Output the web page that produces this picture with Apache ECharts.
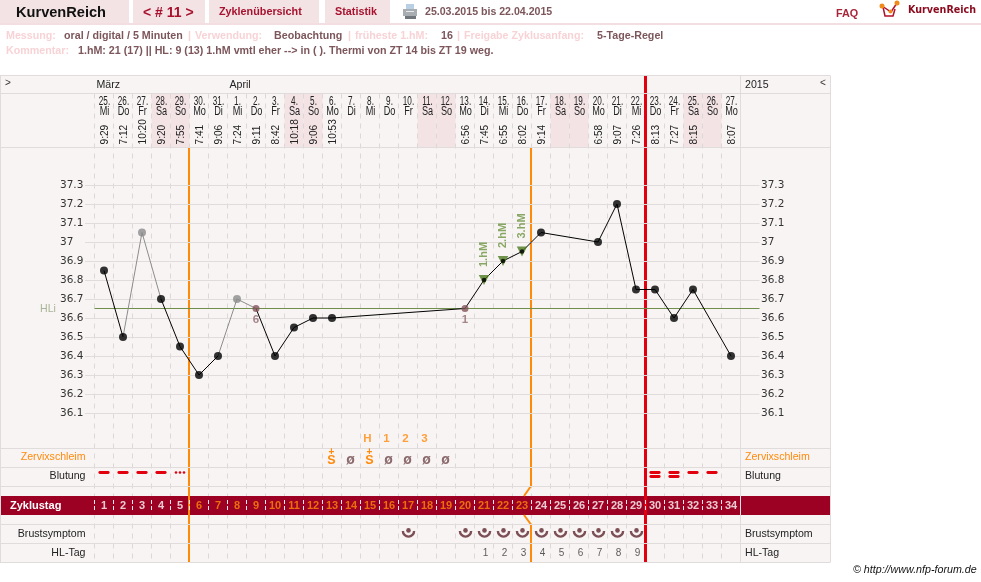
<!DOCTYPE html>
<html lang="de">
<head>
<meta charset="utf-8">
<title>KurvenReich – Zyklus 11</title>
<style>html,body{margin:0;padding:0;background:#fff}#chart{width:981px;height:582px}</style>
<script src="https://cdn.jsdelivr.net/npm/echarts@6/dist/echarts.min.js"></script>
</head>
<body>
<div id="chart"></div>
<script>
// Zyklusdaten
const cycleDays = [1,2,3,4,5,6,7,8,9,10,11,12,13,14,15,16,17,18,19,20,21,22,23,24,25,26,27,28,29,30,31,32,33,34];
const calendarDays = [25,26,27,28,29,30,31,1,2,3,4,5,6,7,8,9,10,11,12,13,14,15,16,17,18,19,20,21,22,23,24,25,26,27];
const weekdays = ['Mi','Do','Fr','Sa','So','Mo','Di','Mi','Do','Fr','Sa','So','Mo','Di','Mi','Do','Fr','Sa','So','Mo','Di','Mi','Do','Fr','Sa','So','Mo','Di','Mi','Do','Fr','Sa','So','Mo'];
const measureTimes = ['9:29','7:12','10:20','9:20','7:55','7:41','9:06','7:24','9:11','8:42','10:18','9:06','10:53','','','','','','','6:56','7:45','6:55','8:02','9:14','','','6:58','9:07','7:26','8:13','7:27','8:15','','8:07'];
const months = ['März','April'];
const monthStartDays = [1,8];
const tempValues = [36.85,36.5,37.05,36.7,36.45,36.3,36.4,36.7,36.65,36.4,36.55,36.6,36.6,null,null,null,null,null,null,36.65,36.8,36.9,36.95,37.05,null,null,37.0,37.2,36.75,36.75,36.6,36.75,null,36.4];
const tempTicks = [36.1,36.2,36.3,36.4,36.5,36.6,36.7,36.8,36.9,37,37.1,37.2,37.3];
const coverLine = 36.65;
const excludedDays = [3,8];
const lowSixDays = [9,20];
const lowSixMarks = ['6','1'];
const riseDays = [21,22,23];
const riseMarks = ['1.hM','2.hM','3.hM'];
const peakDays = [15,16,17,18];
const peakMarks = ['H','1','2','3'];
const mucusDays = [13,14,15,16,17,18,19];
const mucusMarks = ['S+','ø','S+','ø','ø','ø','ø'];
const bleedDays = [1,2,3,4,5,30,31,32,33];
const bleedKinds = ['dash','dash','dash','dash','dots','double','double','dash','dash'];
const breastDays = [17,20,21,22,23,24,25,26,27,28,29];
const highDays = [21,22,23,24,25,26,27,28,29];
const highMarks = ['1','2','3','4','5','6','7','8','9'];
const infertileEnd = 5;
const fertileEnd = 23;
const cycleEnd = 29;

// Farben und Schriften
const ORANGE = '#ff8a0a', RED = '#e2000f', WINE = '#9c0022', LINE = '#e0dcdc', PANEL = '#f9f4f4', SHADE = '#f3e3e5';
const BROWN = '#7c4f55', GREEN = '#6b9440', MUTED = '#f8d3d6', TEXT = '#7c565b';
const SANS = '"Liberation Sans", Arial, sans-serif';

const T = (text, x, y, fill, font, extra) => Object.assign({
  type:'text', z:7, silent:true,
  style:{text, x, y, fill, font:font + ' ' + SANS, verticalAlign:'middle', textVerticalAlign:'middle'}
}, extra || {});
const R = (x, y, w, h, fill, z) => ({type:'rect', silent:true, z:z, shape:{x,y,width:w,height:h}, style:{fill}});
const H = (y) => ({type:'line', silent:true, z:4, shape:{x1:0,y1:y,x2:830,y2:y}, style:{stroke:LINE,lineWidth:1}});
const V = (x, y1, y2, stroke) => ({type:'line', silent:true, z:4, shape:{x1:x,y1,x2:x,y2}, style:{stroke:stroke||LINE,lineWidth:1}});

const chrome = [
  // Seitenkopf
  R(0,0,129,23,SHADE,0), R(133,0,72,23,SHADE,0), R(209,0,110,23,SHADE,0), R(325,0,65,23,SHADE,0),
  R(0,23,981,2,'#f3dfe1',0),
  T('KurvenReich',16,12.5,'#111','bold 14.6px'),
  T('< # 11 >',143,13,'#a8122e','bold 14px'),
  T('Zyklenübersicht',219,12.5,'#a8122e','bold 10.8px'),
  T('Statistik',335,12.5,'#a8122e','bold 10.8px'),
  T('25.03.2015 bis 22.04.2015',425,12.5,TEXT,'bold 10.6px'),
  T('FAQ',836,14.5,'#a8263a','bold 10.8px'),
  {type:'text',z:7,silent:true,style:{text:'KurvenReich',x:908,y:10.5,fill:'#8b0a1e',font:'bold 9.6px "DejaVu Sans"',verticalAlign:'middle',textVerticalAlign:'middle'}},
  // Drucker
  R(406,4,8,6,'#b9d0e4',7), R(403,9,14,7,'#a8adb2',7), R(405,16,11,3,'#70767c',7), R(406,11,8,1,'#e8eaec',7),
  // Logo
  {type:'polyline',z:7,silent:true,shape:{points:[[882,6],[891,12],[897,3]]},style:{stroke:'#b0102a',lineWidth:1.5,fill:null}},
  {type:'polyline',z:7,silent:true,shape:{points:[[883,7],[885,16],[893,16],[895,9]]},style:{stroke:'#b0102a',lineWidth:1.5,fill:null}},
  {type:'circle',z:7,silent:true,shape:{cx:882,cy:6,r:2.5},style:{fill:'#f08a1a'}},
  {type:'circle',z:7,silent:true,shape:{cx:890.5,cy:11.5,r:2},style:{fill:'#f08a1a'}},
  {type:'circle',z:7,silent:true,shape:{cx:897,cy:3,r:2.5},style:{fill:'#f08a1a'}},
  // Angaben zum Zyklus
  T('Messung:',6,36,MUTED,'bold 10.7px'),
  T('oral / digital / 5 Minuten',64,36,TEXT,'bold 10.7px'),
  T('|',188,36,MUTED,'bold 10.7px'),
  T('Verwendung:',195,36,MUTED,'bold 10.7px'),
  T('Beobachtung',274,36,TEXT,'bold 10.7px'),
  T('|',348,36,MUTED,'bold 10.7px'),
  T('früheste 1.hM:',355,36,MUTED,'bold 10.7px'),
  T('16',441,36,TEXT,'bold 10.7px'),
  T('|',457,36,MUTED,'bold 10.7px'),
  T('Freigabe Zyklusanfang:',464,36,MUTED,'bold 10.7px'),
  T('5-Tage-Regel',597,36,TEXT,'bold 10.7px'),
  T('Kommentar:',6,51,MUTED,'bold 10.7px'),
  T('1.hM: 21 (17) || HL: 9 (13) 1.hM vmtl eher --> in ( ). Thermi von ZT 14 bis ZT 19 weg.',78,51,TEXT,'bold 10.7px'),
  // Tafel
  R(1,76,829,486,PANEL,0),
  R(1,496,829,19,WINE,2),
  H(75.5),H(93.5),H(147.5),H(448.5),H(467.5),H(486.5),H(524.5),H(543.5),H(562.5),
  V(0.5,75.5,562.5), V(830.5,75.5,562.5), V(740.5,75.5,496), V(740.5,515,562.5), V(740.5,496,515,'#f0e4e6'),
  // Beschriftungen der Tafel
  T('>',5,83,'#333','10px'),
  T('<',820,83,'#333','10px'),
  T('2015',745,85,'#222','10.6px'),
  T('HLi',40,309.5,'#a6b596','10.6px'),
  T('© http://www.nfp-forum.de',853,570.5,'#111','italic 10.7px')
];

const xFrom = (api, idx) => api.coord([api.value(idx), 0.5])[0];
const empty = {show:false};
const hiddenX = (gridIndex, min, max) => ({type:'value', gridIndex, min, max, show:false});
const hiddenY = (gridIndex) => ({type:'value', gridIndex, min:0, max:1, show:false});

const rowLabel = {
  fontFamily:SANS, fontSize:10.6,
  color:(v) => v === 'Zervixschleim' ? ORANGE : '#222'
};
const rowAxis = (gridIndex, data, position, margin, extra) => ({
  type:'category', gridIndex, data, inverse:true, position, z:6,
  axisLine:empty, axisTick:empty, splitLine:empty,
  axisLabel:Object.assign({}, rowLabel, {margin, formatter:(v)=> v === 'Peak' ? '' : v}, extra||{})
});

// Messwerte: ausgeklammerte Tage unterbrechen die schwarze Linie
const measured = cycleDays.map((d,i)=>[d,tempValues[i]]).filter(p=>p[1]!==null);
const blackLine = measured.map(p => excludedDays.includes(p[0]) ? [p[0],null] : p);
const grayLine = [];
excludedDays.forEach(d=>{
  const k = measured.findIndex(p=>p[0]===d);
  grayLine.push(measured[k-1],measured[k],measured[k+1],[d,null]);
});
const tempAt = (d) => tempValues[d-1];
const plainDays = measured.filter(p=>!excludedDays.includes(p[0]) && !lowSixDays.includes(p[0]) && !riseDays.includes(p[0]));

const option = {
  animation:false,
  backgroundColor:'#fff',
  textStyle:{fontFamily:SANS},
  graphic:{elements:chrome},
  grid:[
    {left:85, width:674.5, top:147, height:304},
    {left:94.5, width:646, top:93.5, height:469},
    {left:94.5, width:646, top:429, height:57},
    {left:94.5, width:646, top:496, height:19},
    {left:94.5, width:646, top:524.5, height:38}
  ],
  xAxis:[hiddenX(0,0,35.5),hiddenX(1,0.5,34.5),hiddenX(2,0.5,34.5),hiddenX(3,0.5,34.5),hiddenX(4,0.5,34.5)],
  yAxis:[
    {type:'value', gridIndex:0, min:35.9, max:37.5, z:6, axisLine:empty, axisTick:empty, splitLine:empty,
     axisLabel:{customValues:tempTicks, margin:25, align:'left', color:'#333', fontFamily:'"DejaVu Sans"', fontSize:10.5, formatter:(v)=>String(v)}},
    {type:'value', gridIndex:0, min:35.9, max:37.5, position:'right', z:6, axisLine:empty, axisTick:empty, splitLine:empty,
     axisLabel:{customValues:tempTicks, margin:1.5, align:'left', color:'#333', fontFamily:'"DejaVu Sans"', fontSize:10.5, formatter:(v)=>String(v)}},
    hiddenY(1),
    rowAxis(2,['Peak','Zervixschleim','Blutung'],'left',9),
    rowAxis(2,['Peak','Zervixschleim','Blutung'],'right',4.5),
    rowAxis(3,['Zyklustag'],'left',84.5,{align:'left',color:'#fff',fontWeight:'bold',fontSize:11}),
    rowAxis(4,['Brustsymptom','HL-Tag'],'left',9),
    rowAxis(4,['Brustsymptom','HL-Tag'],'right',4.5)
  ],
  series:[
    // Wochenenden im Tageskopf
    {type:'custom', name:'Wochenende', xAxisIndex:1, yAxisIndex:2, z:1, silent:true,
     data:cycleDays.filter((d,i)=>['Sa','So'].includes(weekdays[i])).map(d=>[d,0.5]),
     renderItem:(p,api)=>{
       const x = xFrom(api,0), cs = p.coordSys;
       return {type:'rect', shape:{x:x-9.5, y:cs.y, width:19, height:54}, style:{fill:SHADE}};
     }},
    // Tagesgrenzen
    {type:'custom', name:'Tagesgrenzen', xAxisIndex:1, yAxisIndex:2, z:1, silent:true,
     data:cycleDays.map(d=>[d-0.5,0.5]),
     renderItem:(p,api)=>{
       const x = xFrom(api,0), cs = p.coordSys;
       return {type:'line', shape:{x1:x,y1:cs.y,x2:x,y2:cs.y+cs.height}, style:{stroke:'#dcd8d8',lineWidth:1,lineDash:[5,5]}};
     }},
    // Monate
    {type:'custom', name:'Monate', xAxisIndex:1, yAxisIndex:2, z:7, silent:true,
     data:monthStartDays.map((d,i)=>[d-0.5,0.5,i]),
     renderItem:(p,api)=>{
       const x = xFrom(api,0), cs = p.coordSys;
       return {type:'text', x:x+2, y:cs.y-8.5, style:{text:months[api.value(2)], fill:'#222', font:'10.6px '+SANS, verticalAlign:'middle', textVerticalAlign:'middle'}};
     }},
    // Datum, Wochentag, Messzeit
    {type:'custom', name:'Tageskopf', xAxisIndex:1, yAxisIndex:2, z:7, silent:true,
     data:cycleDays.map((d,i)=>[d,0.5,i]),
     renderItem:(p,api)=>{
       const i = api.value(2), x = xFrom(api,0), cs = p.coordSys;
       const fill = '#222';
       const text = (txt,y,px,sx,rot,al) => ({type:'text', x:x+0.5, y, scaleX:sx, rotation:rot||0,
         style:{text:txt, fill, font:px+'px '+SANS, align:al||'center', textAlign:al||'center', verticalAlign:'middle', textVerticalAlign:'middle'}});
       const kids = [text(calendarDays[i]+'.',cs.y+8.3,12,0.68), text(weekdays[i],cs.y+18,12,0.76)];
       if (measureTimes[i]) kids.push(text(measureTimes[i],cs.y+51,11,0.92,Math.PI/2,'left'));
       return {type:'group', children:kids};
     }},
    // Hilfslinien der Temperaturachse
    {type:'line', name:'Raster', xAxisIndex:0, yAxisIndex:0, z:1, silent:true, data:[], symbol:'none',
     markLine:{silent:true, symbol:'none', animation:false, label:{show:false},
       lineStyle:{color:LINE,width:1,type:'solid'},
       data:tempTicks.map(v=>({yAxis:v}))}},
    // Hilfslinie
    {type:'line', name:'Hilfslinie', xAxisIndex:0, yAxisIndex:0, z:2, silent:true, data:[], symbol:'none',
     markLine:{silent:true, symbol:'none', animation:false, label:{show:false},
       lineStyle:{color:'#6f8f4a',width:1,type:'solid'},
       data:[[{coord:[0.5,coverLine]},{coord:[35.5,coverLine]}]]}},
    // Auswertungslinien
    {type:'custom', name:'Phasen', xAxisIndex:1, yAxisIndex:2, z:3, silent:true,
     data:[[infertileEnd+0.5,0.5,0],[fertileEnd+0.5,0.5,1],[cycleEnd+0.5,0.5,2]],
     renderItem:(p,api)=>{
       const kind = api.value(2), x = xFrom(api,0)-0.5, cs = p.coordSys, b = cs.y+cs.height;
       if (kind === 2) {
         const xr = xFrom(api,0);
         return {type:'line', shape:{x1:xr,y1:76,x2:xr,y2:b}, style:{stroke:RED,lineWidth:3}};
       }
       if (kind === 0) return {type:'line', shape:{x1:x,y1:147.5,x2:x,y2:b}, style:{stroke:ORANGE,lineWidth:2}};
       return {type:'group', children:[
         {type:'polyline', shape:{points:[[x,147.5],[x,486],[x-7,496]]}, style:{stroke:ORANGE,lineWidth:2,fill:null}},
         {type:'polyline', shape:{points:[[x-7,515],[x,524.5],[x,b]]}, style:{stroke:ORANGE,lineWidth:2,fill:null}}
       ]};
     }},
    // Temperaturkurve
    {type:'line', name:'Temperatur', xAxisIndex:0, yAxisIndex:0, z:6, data:blackLine, symbol:'none', connectNulls:false,
     lineStyle:{color:'#000',width:1}},
    {type:'line', name:'Ausgeklammert', xAxisIndex:0, yAxisIndex:0, z:6, data:grayLine, symbol:'none', connectNulls:false,
     lineStyle:{color:'#8c8c8c',width:1}},
    {type:'scatter', name:'Höhere Messungen', xAxisIndex:0, yAxisIndex:0, z:6,
     data:riseDays.map((d,i)=>({value:[d,tempAt(d)],mark:riseMarks[i]})),
     symbol:'triangle', symbolRotate:180, symbolSize:[10.5,10], itemStyle:{color:'#4c7a20'},
     label:{show:true, position:'top', distance:8, rotate:90, align:'left', verticalAlign:'middle',
       color:GREEN, fontFamily:SANS, fontWeight:'bold', fontSize:11, formatter:(p)=>p.data.mark}},
    {type:'scatter', name:'Messwerte', xAxisIndex:0, yAxisIndex:0, z:7, data:plainDays, symbol:'circle', symbolSize:8, itemStyle:{color:'#000'}},
    {type:'scatter', name:'Punkte', xAxisIndex:0, yAxisIndex:0, z:7, data:riseDays.map(d=>[d,tempAt(d)]), symbol:'circle', symbolSize:4.5, itemStyle:{color:'#000'}},
    {type:'scatter', name:'Ausgeklammerte Werte', xAxisIndex:0, yAxisIndex:0, z:7, data:excludedDays.map(d=>[d,tempAt(d)]), symbol:'circle', symbolSize:8, itemStyle:{color:'#8c8c8c'}},
    {type:'scatter', name:'Tiefwerte', xAxisIndex:0, yAxisIndex:0, z:7,
     data:lowSixDays.map((d,i)=>({value:[d,tempAt(d)],mark:lowSixMarks[i]})), symbol:'circle', symbolSize:7, itemStyle:{color:'#7f5258'},
     label:{show:true, position:'bottom', distance:2, color:'#8f6a6e', fontFamily:SANS, fontWeight:'bold', fontSize:11.5, formatter:(p)=>p.data.mark}},
    // Höhepunkt
    {type:'scatter', name:'Höhepunkt', xAxisIndex:2, yAxisIndex:3, z:7, symbolSize:0, silent:true,
     data:peakDays.map((d,i)=>({value:[d,'Peak'],mark:peakMarks[i]})),
     label:{show:true, position:'inside', offset:[-2.5,0], color:ORANGE, fontFamily:SANS, fontWeight:'bold', fontSize:11.5, formatter:(p)=>p.data.mark}},
    // Zervixschleim
    {type:'custom', name:'Zervixschleim', xAxisIndex:2, yAxisIndex:3, z:7, silent:true,
     data:mucusDays.map((d,i)=>[d,i]),
     renderItem:(p,api)=>{
       const m = mucusMarks[api.value(1)], pt = api.coord([api.value(0),'Zervixschleim']), x = pt[0]-0.5, y = pt[1];
       const glyph = (t,dy,fill,font)=>({type:'text',x,y:y+dy,style:{text:t,fill,font,align:'center',textAlign:'center',verticalAlign:'middle',textVerticalAlign:'middle'}});
       if (m === 'S+') return {type:'group',children:[glyph('+',-5,ORANGE,'bold 10px '+SANS),glyph('S',3,ORANGE,'bold 12.5px '+SANS)]};
       return glyph('ø',2.5,'#8a6a6c','bold 14px '+SANS);
     }},
    // Blutung
    {type:'custom', name:'Blutung', xAxisIndex:2, yAxisIndex:3, z:7, silent:true,
     data:bleedDays.map((d,i)=>[d,i]),
     renderItem:(p,api)=>{
       const kind = bleedKinds[api.value(1)], pt = api.coord([api.value(0),'Blutung']), x = pt[0], y = pt[1]-4;
       const dash = (yy)=>({type:'line',shape:{x1:x-4.2,y1:yy,x2:x+4.2,y2:yy},style:{stroke:RED,lineWidth:2.8,lineCap:'round'}});
       const dot = (dx)=>({type:'circle',shape:{cx:x+dx,cy:y,r:1.3},style:{fill:RED}});
       if (kind === 'dots') return {type:'group',children:[dot(-4),dot(0),dot(4)]};
       if (kind === 'double') return {type:'group',children:[dash(y),dash(y+4)]};
       return dash(y);
     }},
    // Zyklustage und Trennstriche im Band
    {type:'custom', name:'Trennstriche', xAxisIndex:3, yAxisIndex:5, z:3, silent:true,
     data:cycleDays.map(d=>[d-0.5,'Zyklustag']),
     renderItem:(p,api)=>{
       const pt = api.coord([api.value(0),'Zyklustag']), x = pt[0], cs = p.coordSys;
       return {type:'line',shape:{x1:x,y1:cs.y+4,x2:x,y2:cs.y+16},style:{stroke:'#f4e8ea',lineWidth:1,lineDash:[4,2]}};
     }},
    {type:'scatter', name:'Zyklustag', xAxisIndex:3, yAxisIndex:5, z:7, symbolSize:0, silent:true,
     data:cycleDays.map(d=>({value:[d,'Zyklustag'],
       label:{color:(d>infertileEnd && d<=fertileEnd) ? ORANGE : '#fff'}})),
     label:{show:true, position:'inside', fontFamily:SANS, fontWeight:'bold', fontSize:11, formatter:(p)=>String(p.data.value[0])}},
    // Brustsymptom
    {type:'custom', name:'Brustsymptom', xAxisIndex:4, yAxisIndex:6, z:7, silent:true,
     data:breastDays.map(d=>[d,'Brustsymptom']),
     encode:{x:0,y:1},
     renderItem:(p,api)=>{
       const pt = api.coord([api.value(0),'Brustsymptom']), x = pt[0]+0.5, y = pt[1]-3;
       return {type:'group',children:[
         {type:'arc',shape:{cx:x,cy:y,r:5.6,startAngle:0,endAngle:Math.PI,clockwise:true},style:{stroke:BROWN,lineWidth:2.4,fill:null}},
         {type:'circle',shape:{cx:x,cy:y-0.6,r:2.3},style:{fill:BROWN}}
       ]};
     }},
    // Hochlage
    {type:'scatter', name:'HL-Tag', xAxisIndex:4, yAxisIndex:6, z:7, symbolSize:0, silent:true,
     data:highDays.map((d,i)=>({value:[d,'HL-Tag'],mark:highMarks[i]})),
     label:{show:true, position:'inside', offset:[1.5,0], color:'#333', fontFamily:SANS, fontSize:10, formatter:(p)=>p.data.mark}}
  ]
};

echarts.init(document.getElementById('chart'), null, {renderer:'canvas'}).setOption(option);
</script>
</body>
</html>
